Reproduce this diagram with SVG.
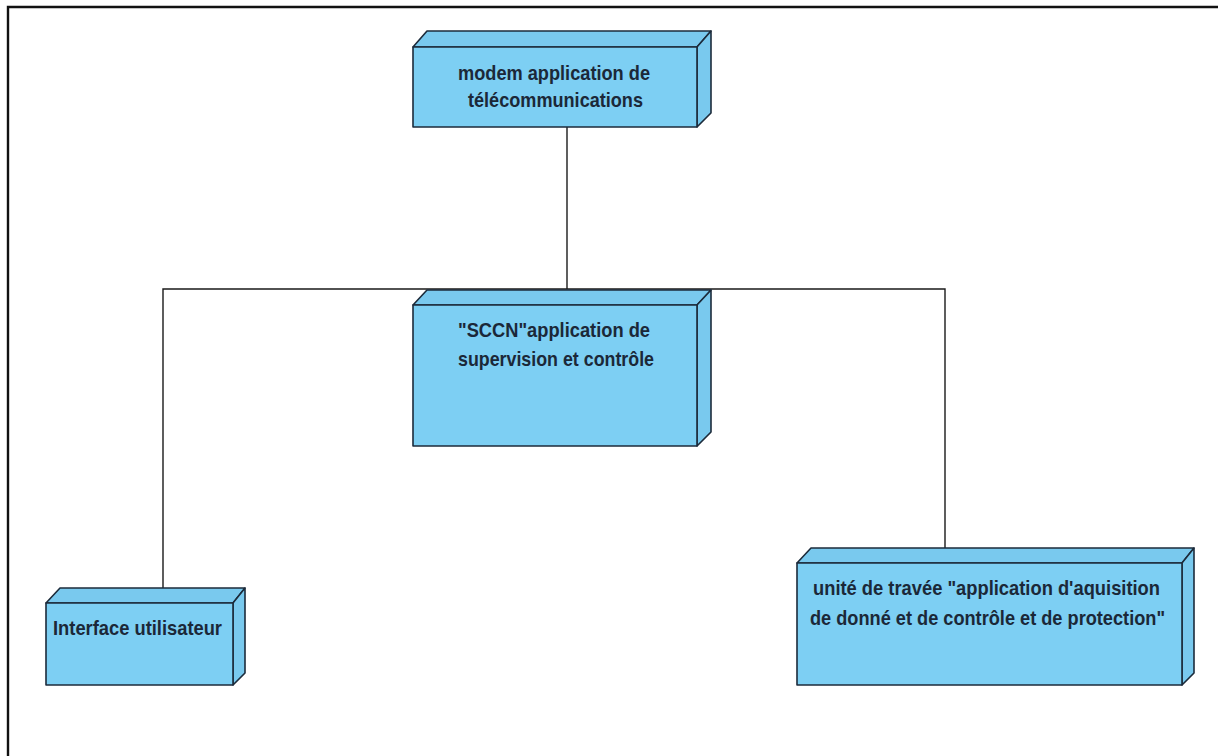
<svg xmlns="http://www.w3.org/2000/svg" width="1218" height="756" viewBox="0 0 1218 756">
  <style>
    .face { fill: #7dcff3; stroke: #1c2b3b; stroke-width: 1.6; stroke-linejoin: round; }
    .side { fill: #79c9ee; stroke: #1c2b3b; stroke-width: 1.6; stroke-linejoin: round; }
    .lbl { font-family: "Liberation Sans", Arial, sans-serif; font-weight: bold; font-size: 21px; fill: #1b2838; }
    .wire { fill: none; stroke: #1a1a1a; stroke-width: 1.4; }
    .frame { fill: none; stroke: #111; stroke-width: 2.4; }
  </style>

  <rect x="0" y="0" width="1218" height="756" fill="#ffffff"/>
  <!-- diagram frame, open on right and bottom -->
  <polyline class="frame" points="8,756 8,7 1218,7"/>

  <g id="connectors">
    <line class="wire" x1="567" y1="127" x2="567" y2="289"/>
    <polyline class="wire" points="163,588 163,289 945,289 945,548"/>
  </g>

  <!-- 3D node boxes: top + right side + front face -->
  <g id="node-modem">
    <polygon class="side" points="413,47 427,31 711,31 697,47"/>
    <polygon class="side" points="697,47 711,31 711,113 697,127"/>
    <rect class="face" x="413" y="47" width="284" height="80"/>
    <text class="lbl" x="554" y="80" text-anchor="middle" textLength="192" lengthAdjust="spacingAndGlyphs">modem application de</text>
    <text class="lbl" x="555.5" y="107" text-anchor="middle" textLength="175" lengthAdjust="spacingAndGlyphs">télécommunications</text>
  </g>

  <g id="node-sccn">
    <polygon class="side" points="413,305 427,290 711,290 697,305"/>
    <polygon class="side" points="697,305 711,290 711,432 697,446"/>
    <rect class="face" x="413" y="305" width="284" height="141"/>
    <text class="lbl" x="554" y="337" text-anchor="middle" textLength="192" lengthAdjust="spacingAndGlyphs">"SCCN"application de</text>
    <text class="lbl" x="556" y="366" text-anchor="middle" textLength="196" lengthAdjust="spacingAndGlyphs">supervision et contrôle</text>
  </g>

  <g id="node-interface">
    <polygon class="side" points="46,603 60,588 245,588 233,603"/>
    <polygon class="side" points="233,603 245,588 245,673 233,685"/>
    <rect class="face" x="46" y="603" width="187" height="82"/>
    <text class="lbl" x="53" y="635" textLength="169" lengthAdjust="spacingAndGlyphs">Interface utilisateur</text>
  </g>

  <g id="node-unite">
    <polygon class="side" points="797,563 811,548 1194,548 1182,563"/>
    <polygon class="side" points="1182,563 1194,548 1194,673 1182,685"/>
    <rect class="face" x="797" y="563" width="385" height="122"/>
    <text class="lbl" x="986.5" y="595" text-anchor="middle" textLength="347" lengthAdjust="spacingAndGlyphs">unité de travée "application d'aquisition</text>
    <text class="lbl" x="987.5" y="625" text-anchor="middle" textLength="355" lengthAdjust="spacingAndGlyphs">de donné et de contrôle et de protection"</text>
  </g>
</svg>
